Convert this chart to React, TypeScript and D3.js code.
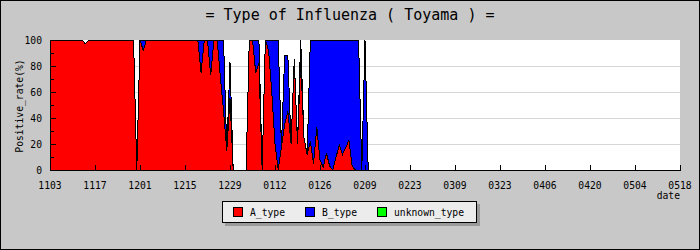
import React, { useEffect, useRef } from "react";
import * as d3 from "d3";

const W = 700;
const H = 250;

const tickLabels = ["1103", "1117", "1201", "1215", "1229", "0112", "0126", "0209", "0223", "0309", "0323", "0406", "0420", "0504", "0518"];
const tickStep = 14;
const totalDays = 196;

const yTicks = [0, 20, 40, 60, 80, 100];
const yMinor = [10, 30, 50, 70, 90];

const seriesKeys = ["A_type", "B_type", "unknown_type"];
const seriesColors = ["#ff0000", "#0000ff", "#00ff00"];

// daily positive rate (%) starting 11/03
const A_type = [
  100, 100, 100, 100, 100, 100, 100, 100, 100, 100,
  100, 97, 100, 100, 100, 100, 100, 100, 100, 100,
  100, 100, 100, 100, 100, 100, 100, 0, 100, 92,
  100, 100, 100, 100, 100, 100, 100, 100, 100, 100,
  100, 100, 100, 100, 100, 100, 100, 75, 100, 100,
  73, 100, 100, 72, 45, 15, 55, 0, 0, 0,
  0, 0, 100, 100, 75, 82, 0, 100, 92, 60,
  20, 0, 18, 35, 45, 20, 85, 20, 85, 25,
  12, 22, 5, 33, 8, 2, 13, 3, 0, 10,
  19, 12, 17, 23, 3, 0, 0, 0, 0, 0,
];
const B_type = [
  0, 0, 0, 0, 0, 0, 0, 0, 0, 0,
  0, 0, 0, 0, 0, 0, 0, 0, 0, 0,
  0, 0, 0, 0, 0, 0, 0, 0, 0, 8,
  0, 0, 0, 0, 0, 0, 0, 0, 0, 0,
  0, 0, 0, 0, 0, 0, 0, 25, 0, 0,
  27, 0, 0, 28, 55, 0, 28, 0, 0, 0,
  0, 0, 0, 0, 25, 18, 0, 0, 8, 40,
  80, 100, 0, 53, 43, 0, 0, 0, 15, 0,
  0, 78, 95, 67, 92, 98, 87, 97, 100, 90,
  81, 88, 83, 77, 97, 100, 100, 0, 100, 0,
];
const unknown_type = [
  0, 0, 0, 0, 0, 0, 0, 0, 0, 0,
  0, 0, 0, 0, 0, 0, 0, 0, 0, 0,
  0, 0, 0, 0, 0, 0, 0, 0, 0, 0,
  0, 0, 0, 0, 0, 0, 0, 0, 0, 0,
  0, 0, 0, 0, 0, 0, 0, 0, 0, 0,
  0, 0, 0, 0, 0, 0, 0, 0, 0, 0,
  0, 0, 0, 0, 0, 0, 0, 0, 0, 0,
  0, 0, 0, 0, 0, 0, 0, 0, 0, 0,
  0, 0, 0, 0, 0, 0, 0, 0, 0, 0,
  0, 0, 0, 0, 0, 0, 0, 0, 0, 0,
];

const FONT = "'DejaVu Sans Mono', monospace";

export default function App() {
  const ref = useRef<SVGSVGElement>(null);

  useEffect(() => {
    const svg = d3.select(ref.current);
    svg.selectAll("*").remove();

    const left = 50, right = 680, top = 40, bottom = 170;
    const x = d3.scaleLinear().domain([0, totalDays]).range([left, right]);
    const y = d3.scaleLinear().domain([0, 100]).range([bottom, top]);

    svg.append("rect").attr("x", 0.5).attr("y", 0.5).attr("width", W - 1).attr("height", H - 1)
      .attr("fill", "#c8c8c8").attr("stroke", "#000");

    svg.append("text").attr("x", 350).attr("y", 20).attr("text-anchor", "middle")
      .attr("font-family", FONT).attr("font-size", 15).attr("fill", "#000")
      .text("= Type of Influenza ( Toyama ) =");

    svg.append("rect").attr("x", left).attr("y", top).attr("width", right - left).attr("height", bottom - top)
      .attr("fill", "#fff");

    const grid = svg.append("g").attr("shape-rendering", "crispEdges");
    [20, 40, 60, 80].forEach((v) => {
      grid.append("line").attr("x1", left).attr("x2", right).attr("y1", Math.round(y(v)) + 0.5).attr("y2", Math.round(y(v)) + 0.5)
        .attr("stroke", "#d6d6d6");
    });

    const rows = A_type.map((a, i) => ({ day: i, A_type: a, B_type: B_type[i], unknown_type: unknown_type[i] }));
    const stacked = d3.stack<any>().keys(seriesKeys)(rows);
    const area = d3.area<any>()
      .x((d) => x(d.data.day))
      .y0((d) => y(d[0]))
      .y1((d) => y(d[1]));

    const g = svg.append("g").attr("shape-rendering", "crispEdges");
    stacked.forEach((s, i) => {
      g.append("path").attr("d", area(s as any) as string)
        .attr("fill", seriesColors[i]).attr("stroke", "#000").attr("stroke-width", 1);
    });

    const ax = svg.append("g").attr("shape-rendering", "crispEdges");
    ax.append("line").attr("x1", left + 0.5).attr("x2", left + 0.5).attr("y1", top).attr("y2", bottom + 1).attr("stroke", "#000");
    ax.append("line").attr("x1", left).attr("x2", right + 1).attr("y1", bottom + 0.5).attr("y2", bottom + 0.5).attr("stroke", "#000");

    yTicks.forEach((v) => {
      const yy = Math.round(y(v)) + 0.5;
      ax.append("line").attr("x1", left).attr("x2", left + 6).attr("y1", yy).attr("y2", yy).attr("stroke", "#000");
      svg.append("text").attr("x", 42).attr("y", y(v) + 3.5).attr("text-anchor", "end")
        .attr("font-family", FONT).attr("font-size", 9.7).attr("fill", "#000").text(String(v));
    });
    yMinor.forEach((v) => {
      const yy = Math.round(y(v)) + 0.5;
      ax.append("line").attr("x1", left).attr("x2", left + 4).attr("y1", yy).attr("y2", yy).attr("stroke", "#000");
    });

    tickLabels.forEach((lab, i) => {
      const xx = Math.round(x(i * tickStep)) + 0.5;
      ax.append("line").attr("x1", xx).attr("x2", xx).attr("y1", bottom).attr("y2", bottom - 5).attr("stroke", "#000");
      svg.append("text").attr("x", x(i * tickStep)).attr("y", 189).attr("text-anchor", "middle")
        .attr("font-family", FONT).attr("font-size", 9.7).attr("fill", "#000").text(lab);
    });

    svg.append("text").attr("x", 680).attr("y", 199).attr("text-anchor", "end")
      .attr("font-family", FONT).attr("font-size", 9.7).attr("fill", "#000").text("date");

    svg.append("text").attr("transform", `translate(23,${(top + bottom) / 2 + 1}) rotate(-90)`)
      .attr("text-anchor", "middle").attr("font-family", FONT).attr("font-size", 9.7).attr("fill", "#000")
      .text("Positive_rate(%)");

    // legend
    const lg = svg.append("g").attr("shape-rendering", "crispEdges");
    lg.append("rect").attr("x", 225).attr("y", 204).attr("width", 255).attr("height", 22).attr("fill", "#9a9a9a");
    lg.append("rect").attr("x", 222.5).attr("y", 201.5).attr("width", 254).attr("height", 21)
      .attr("fill", "#ececec").attr("stroke", "#000");
    const itemX = [233, 305, 377];
    seriesKeys.forEach((k, i) => {
      lg.append("rect").attr("x", itemX[i] + 0.5).attr("y", 207.5).attr("width", 9).attr("height", 9)
        .attr("fill", seriesColors[i]).attr("stroke", "#000");
      svg.append("text").attr("x", itemX[i] + 17).attr("y", 216).attr("font-family", FONT)
        .attr("font-size", 9.7).attr("fill", "#000").text(k);
    });
  }, []);

  return <svg ref={ref} width={W} height={H} style={{ position: "absolute", left: 0, top: 0 }} />;
}
